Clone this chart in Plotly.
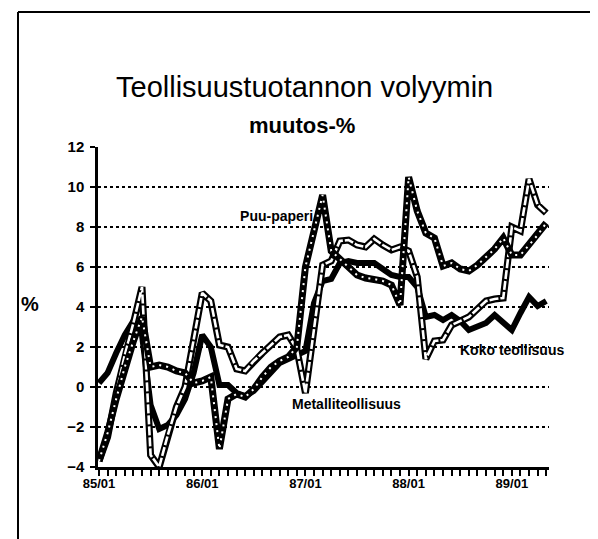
import plotly.graph_objects as go

# ---- data -------------------------------------------------------------
months = [f"{y}/{m:02d}" for y in range(85, 90) for m in range(1, 13)][:53]  # 85/01 .. 89/05

koko_teollisuus = [
    0.2, 0.7, 1.7, 2.6, 3.3, 2.6, -0.9, -2.1, -1.9, -1.4, -0.6, 0.7,
    2.6, 2.0, 0.1, 0.1, -0.3, -0.45, -0.2, 0.3, 0.8, 1.2, 1.4, 1.6,
    1.8, 4.2, 5.3, 5.4, 6.2, 6.3, 6.2, 6.2, 6.2, 5.9, 5.6, 5.5,
    5.5, 5.0, 3.5, 3.6, 3.35, 3.6, 3.3, 2.85, 3.0, 3.2, 3.6, 3.2,
    2.85, 3.7, 4.5, 4.05, 4.3,
]
metalliteollisuus = [
    -3.7, -2.5, -0.3, 1.6, 3.2, 5.0, -3.4, -4.0, -2.4, -1.0, 0.0, 2.3,
    4.7, 4.3, 2.1, 2.0, 0.9, 0.8, 1.3, 1.7, 2.1, 2.5, 2.6, 1.9,
    -0.3, 2.9, 6.1, 6.3, 7.3, 7.35, 7.1, 7.0, 7.4, 7.1, 6.85, 7.0,
    6.8, 5.5, 1.4, 2.3, 2.35, 3.1, 3.3, 3.5, 3.9, 4.3, 4.4, 4.45,
    8.0, 7.8, 10.4, 9.1, 8.7,
]
puu_paperi = [
    -3.7, -2.3, -0.6, 1.0, 2.3, 3.5, 1.0, 1.1, 1.0, 0.8, 0.7, 0.2,
    0.3, 0.5, -3.1, -0.6, -0.35, -0.5, -0.1, 0.5, 1.0, 1.3, 1.5, 2.0,
    6.0, 7.8, 9.6, 6.8, 6.4, 6.0, 5.6, 5.45, 5.4, 5.3, 5.1, 4.1,
    10.5, 8.8, 7.7, 7.45, 6.05, 6.2, 5.9, 5.8, 6.1, 6.5, 6.9, 7.45,
    6.6, 6.6, 7.1, 7.6, 8.2,
]
y_ticks = [-4, -2, 0, 2, 4, 6, 8, 10, 12]
tick_labels = [m if m.endswith("/01") else "" for m in months]

title_text = "Teollisuustuotannon volyymin"
subtitle_text = "muutos-%"
unit_text = "%"
label_puu = "Puu-paperi"
label_metal = "Metalliteollisuus"
label_koko = "Koko teollisuus"

x = list(range(len(months)))
FONT = "Liberation Sans, Arial, sans-serif"

# ---- geometry helpers (pixel -> paper) -------------------------------
W, H = 598, 539
ML, MR, MT, MB = 90, 57, 139, 80
PW, PH = W - ML - MR, H - MT - MB


def px(xpix):
    return (xpix - ML) / PW


def py(ypix):
    return (H - MB - ypix) / PH


fig = go.Figure()

# label that lies under the Puu-paperi line
fig.add_trace(go.Scatter(
    x=[16.4], y=[8.5], mode="text", text=[label_puu], textposition="middle right",
    textfont=dict(family=FONT, size=14, color="black", weight="bold"),
    hoverinfo="skip"))

# Koko teollisuus: thick solid black
fig.add_trace(go.Scatter(x=x, y=koko_teollisuus, mode="lines",
                         line=dict(color="black", width=6), name=label_koko))
# Metalliteollisuus: double line (black outline, white core)
fig.add_trace(go.Scatter(x=x, y=metalliteollisuus, mode="lines",
                         line=dict(color="black", width=7), name=label_metal))
fig.add_trace(go.Scatter(x=x, y=metalliteollisuus, mode="lines",
                         line=dict(color="white", width=2.6, dash="9px,2px"),
                         hoverinfo="skip", showlegend=False))
# Puu-paperi: thick black with white dots
fig.add_trace(go.Scatter(x=x, y=puu_paperi, mode="lines",
                         line=dict(color="black", width=7), name=label_puu))
fig.add_trace(go.Scatter(x=x, y=puu_paperi, mode="lines",
                         line=dict(color="white", width=2, dash="2px,5px"),
                         hoverinfo="skip", showlegend=False))

annotations = [
    dict(x=px(296), y=py(79), xref="paper", yref="paper", text=title_text,
         showarrow=False, xanchor="center", yanchor="middle",
         font=dict(family=FONT, size=29, color="black")),
    dict(x=px(294), y=py(118), xref="paper", yref="paper", text=subtitle_text,
         showarrow=False, xanchor="center", yanchor="middle",
         font=dict(family=FONT, size=22, color="black", weight="bold")),
    dict(x=px(22), y=py(296), xref="paper", yref="paper", text=unit_text,
         showarrow=False, xanchor="center", yanchor="middle",
         font=dict(family=FONT, size=20, color="black", weight="bold")),
    dict(x=22.2, y=-0.85, xref="x", yref="y", text=label_metal,
         showarrow=False, xanchor="left", yanchor="middle",
         font=dict(family=FONT, size=14, color="black", weight="bold")),
    dict(x=41.7, y=1.85, xref="x", yref="y", text=label_koko,
         showarrow=False, xanchor="left", yanchor="middle",
         font=dict(family=FONT, size=14, color="black", weight="bold")),
]

# page frame (scanned box edges)
shapes = [
    dict(type="line", xref="paper", yref="paper", x0=px(10), x1=px(10),
         y0=py(4), y1=py(539), line=dict(color="black", width=2)),
    dict(type="line", xref="paper", yref="paper", x0=px(10), x1=px(595),
         y0=py(4), y1=py(4), line=dict(color="black", width=2)),
    dict(type="line", xref="paper", yref="paper", x0=px(595), x1=px(595),
         y0=py(4), y1=py(230), line=dict(color="black", width=1.5)),
]

fig.update_layout(
    width=W, height=H,
    margin=dict(l=ML, r=MR, t=MT, b=MB, pad=0),
    paper_bgcolor="white", plot_bgcolor="white",
    showlegend=False,
    annotations=annotations,
    shapes=shapes,
    font=dict(family=FONT, color="black"),
    xaxis=dict(
        range=[-0.116, 52.32], tickmode="array", tickvals=x, ticktext=tick_labels,
        ticks="outside", ticklen=6, tickwidth=2, tickcolor="black",
        ticklabelstandoff=-3,
        showline=True, linecolor="black", linewidth=2.5,
        showgrid=False, zeroline=False, tickangle=0,
        tickfont=dict(family=FONT, size=13, color="black", weight="bold"),
    ),
    yaxis=dict(
        range=[-4, 12], tickmode="array", tickvals=y_ticks,
        ticks="outside", ticklen=5, tickwidth=2, tickcolor="black",
        ticklabelstandoff=3,
        showline=True, linecolor="black", linewidth=2.5,
        showgrid=True, gridcolor="black", griddash="dot", gridwidth=1.5,
        zeroline=False,
        tickfont=dict(family=FONT, size=15, color="black", weight="bold"),
    ),
)

fig.write_html("out.html")
